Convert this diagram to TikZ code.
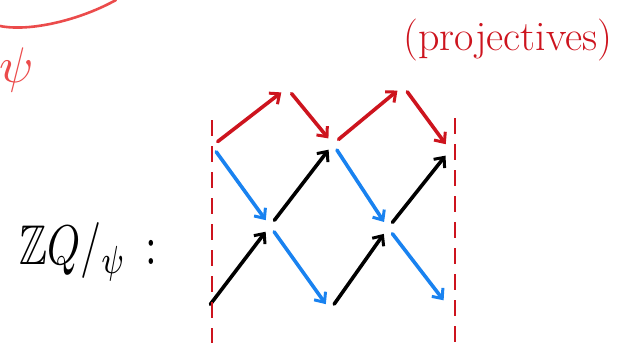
\documentclass[tikz,border=0pt]{standalone}
\usepackage{amsmath,amssymb}
\usepackage{tikz}
\usetikzlibrary{arrows.meta, positioning, calc}
\usepackage{xcolor}
\definecolor{penred}{RGB}{205,20,30}
\definecolor{lightred}{RGB}{235,75,75}
\definecolor{penblue}{RGB}{25,130,240}

\begin{document}
\begin{tikzpicture}[
  x=1pt, y=-1pt,
  vtx/.style={circle, inner sep=0pt, minimum size=14pt},
  arrow/.style={-{Straight Barb[length=8pt,width=14pt,line width=3pt]}, line width=3.6pt, line cap=round},
  proj/.style={arrow, penred},
  mor/.style={arrow, black},
  tau/.style={arrow, penblue},
  bound/.style={penred, line width=2pt, dash pattern=on 16pt off 10pt},
]
\useasboundingbox (0,0) rectangle (624,343);

% vertices
\node[vtx] (p1) at (287,88) {};
\node[vtx] (p2) at (403,86) {};
\node[vtx] (a1) at (212,146) {};
\node[vtx] (a2) at (333,144) {};
\node[vtx] (a3) at (450,150) {};
\node[vtx] (b1) at (270,226) {};
\node[vtx] (b2) at (388,228) {};
\node[vtx] (c1) at (206,310) {};
\node[vtx] (c2) at (330,310) {};
\node[vtx] (c3) at (448,306) {};

% projectives
\draw[proj] (a1) -- (p1);
\draw[proj] (p1) -- (a2);
\draw[proj] (a2) -- (p2);
\draw[proj] (p2) -- (a3);

\draw[tau] (a1) -- (b1);
\draw[tau] (a2) -- (b2);
\draw[tau] (b1) -- (c2);
\draw[tau] (b2) -- (c3);

\draw[mor] (c1) -- (b1);
\draw[mor] (b1) -- (a2);
\draw[mor] (c2) -- (b2);
\draw[mor] (b2) -- (a3);

\draw[bound] (212,120) -- (212,343);
\draw[bound] (455,118) -- (455,343);

\draw[lightred, line width=2.6pt, line cap=round] (0,26) .. controls (30,32) and (80,20) .. (116,0);
\node[lightred, scale=5] (psi) at (17,70) {$\psi$};

\node[penred, font=\fontsize{42}{42}\selectfont] (label) at (508,40) {(projectives)};
\node[xscale=4.2, yscale=5.6] (quiver) at (88,252) {$\mathbb{Z}Q/_{\psi}\,:$};
\end{tikzpicture}
\end{document}
